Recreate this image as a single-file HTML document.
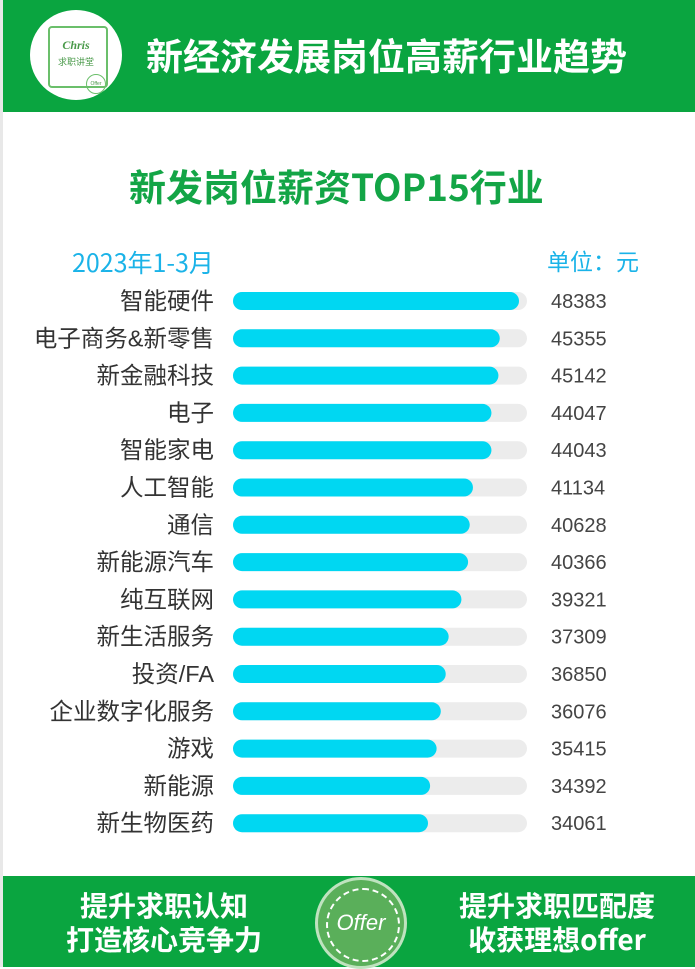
<!DOCTYPE html>
<html><head><meta charset="utf-8"><style>
body{margin:0;width:695px;height:967px;background:#fff;position:relative;overflow:hidden;font-family:"Liberation Sans","Noto Sans CJK SC",sans-serif}
.abs{position:absolute}
.hdr{left:3px;top:0;width:692px;height:112px;background:#0aa540}
.ftr{left:3px;top:876px;width:692px;height:91px;background:#0aa540}
.bt{color:#fff;font-weight:bold;font-family:"Noto Sans CJK SC",sans-serif}
</style></head><body>
<div class="abs" style="left:0;top:0;width:3px;height:967px;background:#e8e8e8"></div>
<div class="abs hdr"></div>
<div class="abs" style="left:30px;top:10px;width:92px;height:90px;border-radius:50%;background:#fff">
 <div class="abs" style="left:18px;top:16px;width:56px;height:58px;border:2px solid #6bbf6b;border-radius:4px"></div>
 <div class="abs" style="left:0;top:28px;width:92px;text-align:center;color:#4a9a4a;font:italic bold 12px 'Liberation Serif',serif">Chris</div>
 <div class="abs" style="left:0;top:45px;width:92px;text-align:center;color:#4a9a4a;font-size:9px;font-family:'Noto Sans CJK SC',sans-serif">求职讲堂</div>
 <div class="abs" style="left:56px;top:64px;width:18px;height:18px;border-radius:50%;border:1px solid #6bbf6b;font-size:5px;color:#4a9a4a;text-align:center;line-height:18px">Offer</div>
</div>
<div class="abs bt" style="left:146px;top:28px;font-size:37px;line-height:52px">新经济发展岗位高薪行业趋势</div>
<div class="abs" style="left:129px;top:160px;color:#13a546;font-weight:bold;font-size:37px;line-height:50px;font-family:'Noto Sans CJK SC',sans-serif">新发岗位薪资TOP15行业</div>
<div class="abs" style="left:72px;top:246px;color:#1ab3e8;font-size:25px;line-height:32px;font-family:'Noto Sans CJK SC',sans-serif">2023年1-3月</div>
<div class="abs" style="left:547px;top:244px;color:#1ab3e8;font-size:23px;line-height:32px;font-family:'Noto Sans CJK SC',sans-serif">单位：元</div>
<svg class="abs" style="left:0;top:0" width="695" height="967" id="chart"></svg>
<div class="abs ftr"></div>
<div class="abs bt" style="left:30px;top:888px;width:268px;text-align:center;font-size:28px;line-height:34px">提升求职认知<br>打造核心竞争力</div>
<div class="abs bt" style="left:426px;top:888px;width:262px;text-align:center;font-size:28px;line-height:34px">提升求职匹配度<br>收获理想offer</div>
<div class="abs" style="left:315px;top:877px;width:92px;height:92px;border-radius:50%;background:#5aaf5a;border:3px solid #bfe3bf;box-sizing:border-box">
 <div class="abs" style="left:8px;top:8px;width:70px;height:70px;border-radius:50%;border:2px dashed #fff"></div>
 <div class="abs" style="left:0;top:30px;width:86px;text-align:center;color:#fff;font:italic 22px 'Liberation Sans',sans-serif">Offer</div>
</div>
<script>
const categories=["智能硬件","电子商务&新零售","新金融科技","电子","智能家电","人工智能","通信","新能源汽车","纯互联网","新生活服务","投资/FA","企业数字化服务","游戏","新能源","新生物医药"];
const values=[48383,45355,45142,44047,44043,41134,40628,40366,39321,37309,36850,36076,35415,34392,34061];
const svg=document.getElementById('chart');const NS='http://www.w3.org/2000/svg';
const x0=233,trackW=294,dMin=3370,dMax=49640;
function xs(v){return (v-dMin)/(dMax-dMin)*trackW;}
function ys(i){return 301+i*37.3;}
function mk(t,a){const e=document.createElementNS(NS,t);for(const k in a)e.setAttribute(k,a[k]);svg.appendChild(e);return e;}
categories.forEach((c,i)=>{
 const y=ys(i);
 const tr=mk('rect',{x:x0,y:y-9,width:trackW,height:18,rx:9,fill:'#ececec'});
 
 
 const b=mk('rect',{x:x0,y:y-9,width:xs(values[i]),height:18,rx:9,fill:'#00d7f2'});
 
 
 const l=mk('text',{x:214,y:y+8,'text-anchor':'end','font-size':23.5,fill:'#333','font-family':'"Liberation Sans","Noto Sans CJK SC",sans-serif'});
 l.textContent=c;
 
 
 const v=mk('text',{x:551,y:y+7,'font-size':20,fill:'#444','font-family':'"Liberation Sans",sans-serif'});
 v.textContent=values[i];
 
 
});
</script>
</body></html>
